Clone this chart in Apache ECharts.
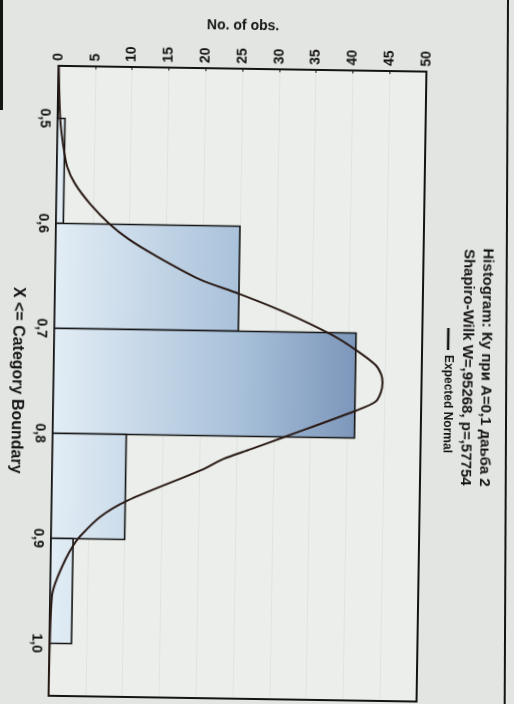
<!DOCTYPE html>
<html>
<head>
<meta charset="utf-8">
<script src="https://cdn.jsdelivr.net/npm/echarts@6/dist/echarts.min.js"></script>
<style>
  html, body { margin: 0; padding: 0; background: #e2e5e1; overflow: hidden; }
  #wrap { position: relative; width: 514px; height: 704px; overflow: hidden; }
  #chart { position: absolute; left: 0; top: 0; width: 514px; height: 704px; transform: rotate(0.9deg); transform-origin: 50% 50%; }
  .edge { position: absolute; background: #151515; }
</style>
</head>
<body>
<div id="wrap">
  <div id="chart"></div>
  <div class="edge" style="left:0;top:0;width:3px;height:110px;"></div>
  <div class="edge" style="left:507px;top:0;width:2px;height:704px;transform:rotate(0.27deg);transform-origin:0 0;"></div>
</div>
<script>
// Histogram bins (category boundaries) and observed counts
var binLow  = [0.5, 0.6, 0.7, 0.8, 0.9];
var binHigh = [0.6, 0.7, 0.8, 0.9, 1.0];
var counts  = [1, 25, 41, 10, 3];

// Expected normal curve, sampled: boundary value and expected count
var curveX = [0.45, 0.50, 0.525, 0.546, 0.562, 0.581, 0.600, 0.614, 0.627, 0.651, 0.664, 0.681, 0.702, 0.716, 0.730, 0.739, 0.747, 0.756, 0.765, 0.774, 0.800, 0.812, 0.822, 0.833, 0.863, 0.879, 0.898, 0.907, 0.920, 0.942, 0.955, 1.00, 1.05];
var curveY = [0.05, 0.35, 0.8, 1.4, 2.5, 4.6, 7.3, 9.9, 13.0, 19.6, 24.9, 31.2, 37.7, 41.0, 43.7, 44.5, 44.7, 44.5, 43.8, 41.1, 31.5, 27.0, 23.2, 20.2, 10.3, 6.6, 3.9, 3.0, 2.0, 0.7, 0.25, 0.05, 0.0];

// Axis ticks
var boundaryTicks = [0.5, 0.6, 0.7, 0.8, 0.9, 1.0];
var countMin = 0, countMax = 50, countStep = 5;

var titleLine1 = 'Histogram: Ку при А=0,1 даьба 2';
var titleLine2 = 'Shapiro-Wilk W=,95268, p=,57754';
var legendText = 'Expected Normal';

var FONT = 'Liberation Sans, Arial, sans-serif';
var INK = '#141414';

var chart = echarts.init(document.getElementById('chart'), null, { renderer: 'canvas' });

var histData = binLow.map(function (lo, i) { return [lo, binHigh[i], counts[i]]; });
var curveData = curveX.map(function (x, i) { return [curveY[i], x]; });

function renderBar(params, api) {
  var lo = api.value(0), hi = api.value(1), n = api.value(2);
  var p0 = api.coord([0, lo]);
  var p1 = api.coord([n, hi]);
  var gx0 = api.coord([countMin, lo])[0];
  var gx1 = api.coord([countMax, lo])[0];
  return {
    type: 'rect',
    shape: { x: p0[0], y: p0[1], width: p1[0] - p0[0], height: p1[1] - p0[1] },
    style: {
      fill: new echarts.graphic.LinearGradient(gx0, 0, gx1, 0, [
        { offset: 0, color: '#e2edf5' },
        { offset: 0.5, color: '#a9c1da' },
        { offset: 0.82, color: '#7d97bb' },
        { offset: 1, color: '#6b85ab' }
      ], true),
      stroke: INK,
      lineWidth: 1.6
    }
  };
}

chart.setOption({
  backgroundColor: 'transparent',
  animation: false,
  grid: {
    left: 54, right: 92, top: 69, bottom: 5,
    show: true,
    backgroundColor: '#ebeeea',
    borderColor: INK,
    borderWidth: 2
  },
  xAxis: {
    type: 'value',
    position: 'top',
    min: countMin, max: countMax, interval: countStep,
    name: 'No. of obs.',
    nameLocation: 'middle',
    nameGap: 36,
    nameTextStyle: { fontFamily: FONT, fontSize: 14, fontWeight: 'bold', color: INK },
    axisLine: { show: true, lineStyle: { color: INK, width: 2 } },
    axisTick: { show: true, inside: true, length: 3, lineStyle: { color: INK } },
    axisLabel: { rotate: -90, margin: 5, fontFamily: FONT, fontSize: 14, fontWeight: 'bold', color: INK },
    splitLine: { show: true, lineStyle: { color: 'rgba(0,0,0,0.045)', width: 1 } }
  },
  yAxis: {
    type: 'value',
    inverse: true,
    min: 0.45, max: 1.05,
    name: 'X <= Category Boundary',
    nameLocation: 'middle',
    nameRotate: -90,
    nameGap: 29,
    nameTextStyle: { fontFamily: FONT, fontSize: 16, fontWeight: 'bold', color: INK },
    axisLine: { show: true, lineStyle: { color: INK, width: 2 } },
    axisTick: { show: false },
    axisLabel: {
      customValues: boundaryTicks,
      rotate: -90,
      margin: 6,
      fontFamily: FONT, fontSize: 14, fontWeight: 'bold', color: INK,
      formatter: function (v) { return v.toFixed(1).replace('.', ','); }
    },
    splitLine: { show: false }
  },
  series: [
    {
      type: 'custom',
      renderItem: renderBar,
      data: histData,
      encode: { x: 2, y: [0, 1] },
      clip: true,
      z: 2
    },
    {
      type: 'line',
      data: curveData,
      showSymbol: false,
      smooth: 0.3,
      clip: true,
      lineStyle: { color: '#2a1a15', width: 2 },
      z: 3
    }
  ],
  graphic: [
    {
      type: 'text', x: 486, y: 364, rotation: -Math.PI / 2,
      style: { text: titleLine1, fontFamily: FONT, fontSize: 15, fontWeight: 'bold', fill: INK, align: 'center', verticalAlign: 'middle' }
    },
    {
      type: 'text', x: 467, y: 364, rotation: -Math.PI / 2,
      style: { text: titleLine2, fontFamily: FONT, fontSize: 15, fontWeight: 'bold', fill: INK, align: 'center', verticalAlign: 'middle' }
    },
    {
      type: 'line',
      shape: { x1: 448, y1: 325, x2: 448, y2: 347 },
      style: { stroke: INK, lineWidth: 2.5 }
    },
    {
      type: 'text', x: 448, y: 352, rotation: -Math.PI / 2,
      style: { text: legendText, fontFamily: FONT, fontSize: 12, fontWeight: 'bold', fill: INK, align: 'left', verticalAlign: 'middle' }
    }
  ]
});
</script>
</body>
</html>
